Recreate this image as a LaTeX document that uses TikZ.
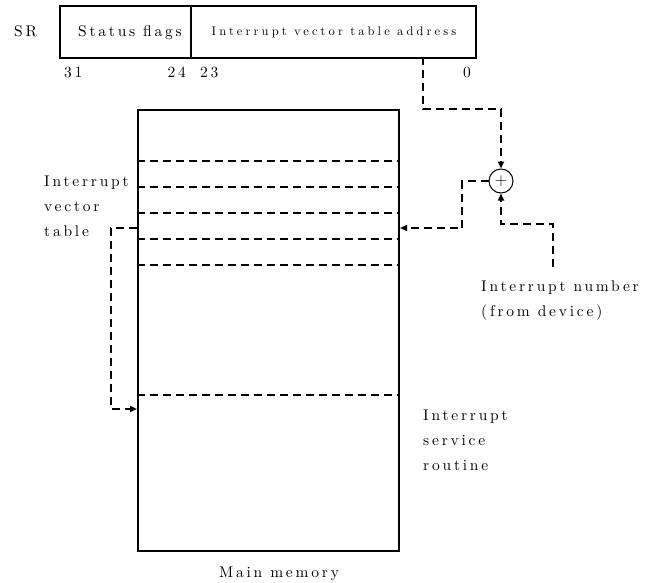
\documentclass[tikz,border=0pt]{standalone}
\usepackage{fontspec}
\setmainfont{lmroman10-regular.otf}
\usetikzlibrary{arrows.meta,calc}
\begin{document}
\begin{tikzpicture}[x=1pt,y=-1pt,
  txt/.style={font=\fontsize{15.5}{25}\selectfont\addfontfeatures{LetterSpace=18}, inner sep=0pt, align=left},
  smalltxt/.style={font=\fontsize{12.5}{14}\selectfont\addfontfeatures{LetterSpace=25}, inner sep=0pt},
  regbox/.style={draw, line width=1.6pt, minimum height=52pt, inner sep=0pt, anchor=north west},
  membox/.style={draw, line width=2pt, minimum width=261pt, minimum height=441pt, inner sep=0pt, anchor=north west},
  dline/.style={line width=2.2pt, dash pattern=on 8pt off 5pt},
  conn/.style={dline, -{Triangle[length=7pt,width=6pt]}},
  sumnode/.style={circle, draw, line width=1pt, minimum size=24pt, inner sep=0pt, font=\fontsize{16}{16}\selectfont}
]
\useasboundingbox (0,0) rectangle (653,583);

% register
\node[txt, anchor=base west] (sr) at (14,37) {SR};
\node[regbox, minimum width=131pt] (sf) at (59,5) {};
\node[regbox, minimum width=285pt] (ivta) at (190,5) {};
\node[txt, anchor=base] (sftext) at (130,37) {Status flags};
\node[smalltxt, anchor=base] (ivtatext) at (334,36) {Interrupt vector table address};
\node[txt, anchor=base west] (b31) at (64,78) {31};
\node[txt, anchor=base east] (b24) at (186,78) {24};
\node[txt, anchor=base west] (b23) at (200,78) {23};
\node[txt, anchor=base east] (b0) at (471,78) {0};

% memory
\node[membox] (mem) at (137,109) {};
\foreach \yy in {161,187,213,239,265,395}
  \draw[dline] (mem.west |- 0,\yy) -- (mem.east |- 0,\yy);

% adder
\node[sumnode] (plus) at (501,181) {$+$};

% labels
\node[txt, anchor=base west] (ivt1) at (44,186) {Interrupt};
\node[txt, anchor=base west] (ivt2) at (44,211) {vector};
\node[txt, anchor=base west] (ivt3) at (44,236) {table};
\node[txt, anchor=base west] (in1) at (481,291) {Interrupt number};
\node[txt, anchor=base west] (in2) at (481,316) {(from device)};
\node[txt, anchor=base west] (isr1) at (423,420) {Interrupt};
\node[txt, anchor=base west] (isr2) at (423,445) {service};
\node[txt, anchor=base west] (isr3) at (423,470) {routine};
\node[txt, anchor=base] (mm) at (279,577) {Main memory};

% connectors
\coordinate (srout) at (423,57);
\coordinate (devsrc) at (553,267);
\draw[conn] (srout) -- (423,109) -| (plus.north);
\draw[conn] (devsrc) |- (501,224) -- (plus.south);
\draw[conn] (plus.west) -- (462,181) |- (mem.east |- 0,228);
\draw[conn] (mem.west |- 0,228) -- (111,228) |- (mem.west |- 0,409);
\end{tikzpicture}
\end{document}
